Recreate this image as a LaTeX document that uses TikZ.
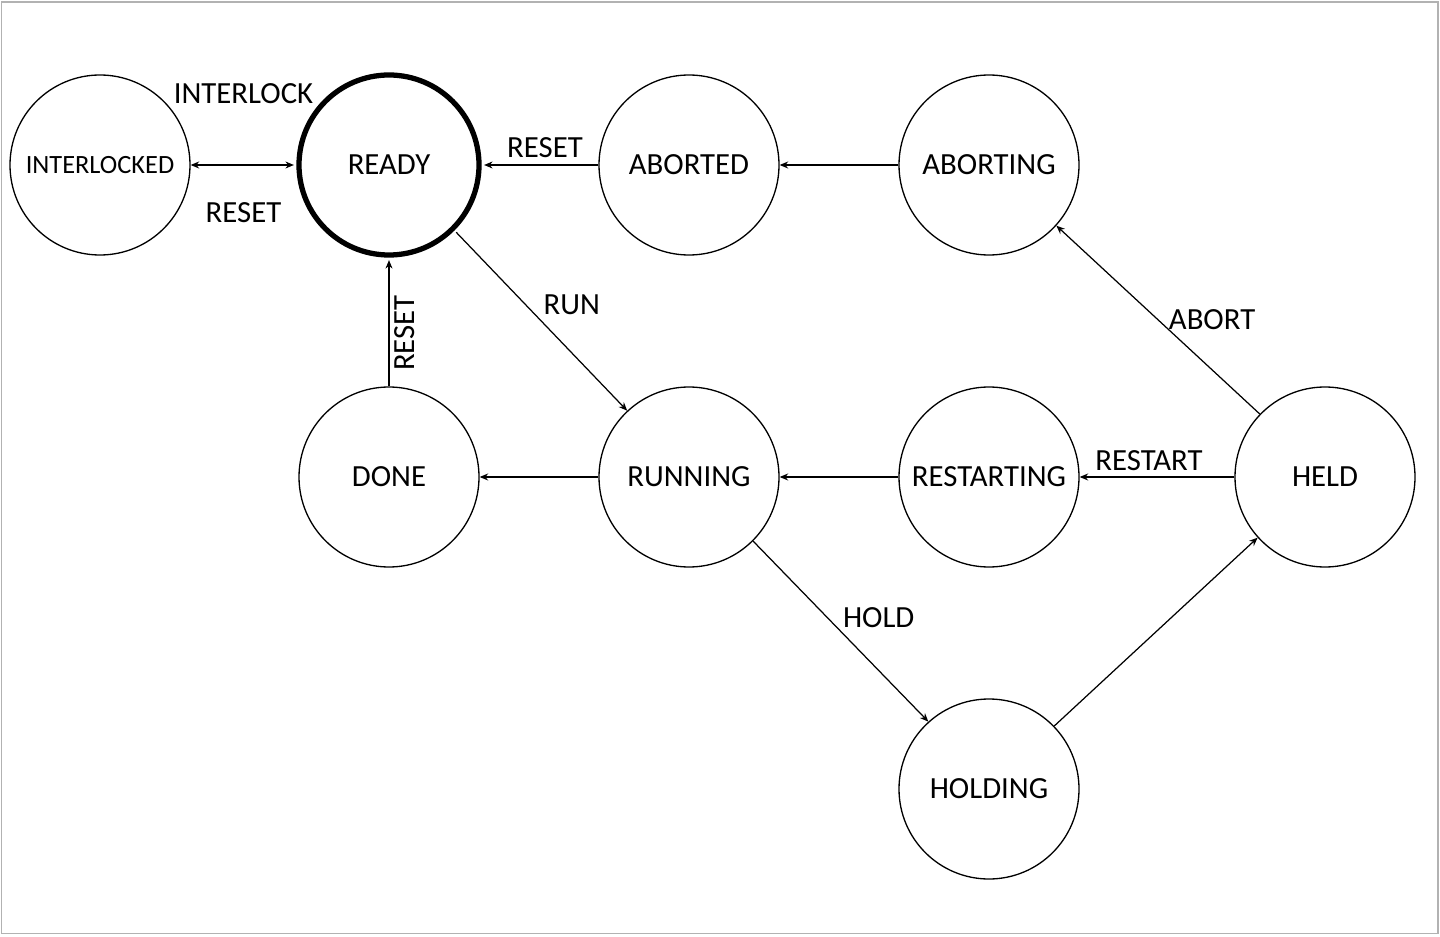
\documentclass[tikz,border=0pt]{standalone}
\usepackage{fontspec}
\setmainfont{Carlito}
\usetikzlibrary{positioning}
\usetikzlibrary{arrows.meta}
\tikzset{
        statenode/.style={circle, draw=black, line width=0.75pt, minimum size=3.6cm, inner sep=0pt, align=center, font=\fontsize{17.5}{20}\selectfont},
        % Initial state
        state_init/.style={statenode, line width=3pt},
        % State with a long name
        state_small/.style={statenode, font=\fontsize{15}{18}\selectfont},
        % Transitions
        trans/.style={line width=0.7pt, -{Stealth[length=1.7mm,width=1.4mm]}},
        % Transition labels
        trans_label/.style={font=\fontsize{17.5}{20}\selectfont, inner sep=0pt}
}

\begin{document}
\begin{tikzpicture}[on grid]
            \useasboundingbox (0,0) rectangle (28.8,18.72);
            \draw[gray!60, line width=1pt] (0.03,0.05) rectangle (28.76,18.68);

            \node[state_small] (interlocked) at (2.0,15.42) {INTERLOCKED};
            \node[state_init, right=5.78cm of interlocked] (ready) {READY};
            \node[statenode, right=6cm of ready] (aborted) {ABORTED};
            \node[statenode, right=6cm of aborted] (aborting) {ABORTING};
            \node[statenode, below=6.24cm of ready] (done) {DONE};
            \node[statenode, below=6.24cm of aborted] (running) {RUNNING};
            \node[statenode, below=6.24cm of aborting] (restarting) {RESTARTING};
            \node[statenode, right=6.72cm of restarting] (held) {HELD};
            \node[statenode, below=6.24cm of restarting] (holding) {HOLDING};

            \draw[trans, {Stealth[length=1.7mm,width=1.4mm]}-{Stealth[length=1.7mm,width=1.4mm]}, shorten >=1.4pt] (interlocked) -- (ready)
                node[trans_label, midway, yshift=1.42cm] (lbl_interlock) {INTERLOCK}
                node[trans_label, midway, yshift=-0.96cm] (lbl_reset_a) {RESET};
            \draw[trans, shorten >=1.4pt] (aborted) -- (ready)
                node[trans_label, midway, yshift=0.34cm, xshift=0.1cm] (lbl_reset_b) {RESET};
            \draw[trans] (aborting) -- (aborted);
            \draw[trans, shorten <=1.4pt] (ready.-45) -- (running.133)
                node[trans_label, midway, xshift=0.62cm, yshift=0.32cm] (lbl_run) {RUN};
            \draw[trans, shorten >=1.4pt] (done) -- (ready)
                node[trans_label, midway, rotate=90, xshift=-0.22cm, yshift=-0.32cm] (lbl_reset_c) {RESET};
            \draw[trans] (running) -- (done);
            \draw[trans] (restarting) -- (running);
            \draw[trans] (held) -- (restarting)
                node[trans_label, midway, xshift=-0.16cm, yshift=0.32cm] (lbl_restart) {RESTART};
            \draw[trans] (held.136) -- (aborting.-42)
                node[trans_label, midway, xshift=1.08cm] (lbl_abort) {ABORT};
            \draw[trans] (running.-45) -- (holding.132)
                node[trans_label, midway, xshift=0.76cm, yshift=0.28cm] (lbl_hold) {HOLD};
            \draw[trans] (holding.44) -- (held.222);
\end{tikzpicture}
\end{document}
